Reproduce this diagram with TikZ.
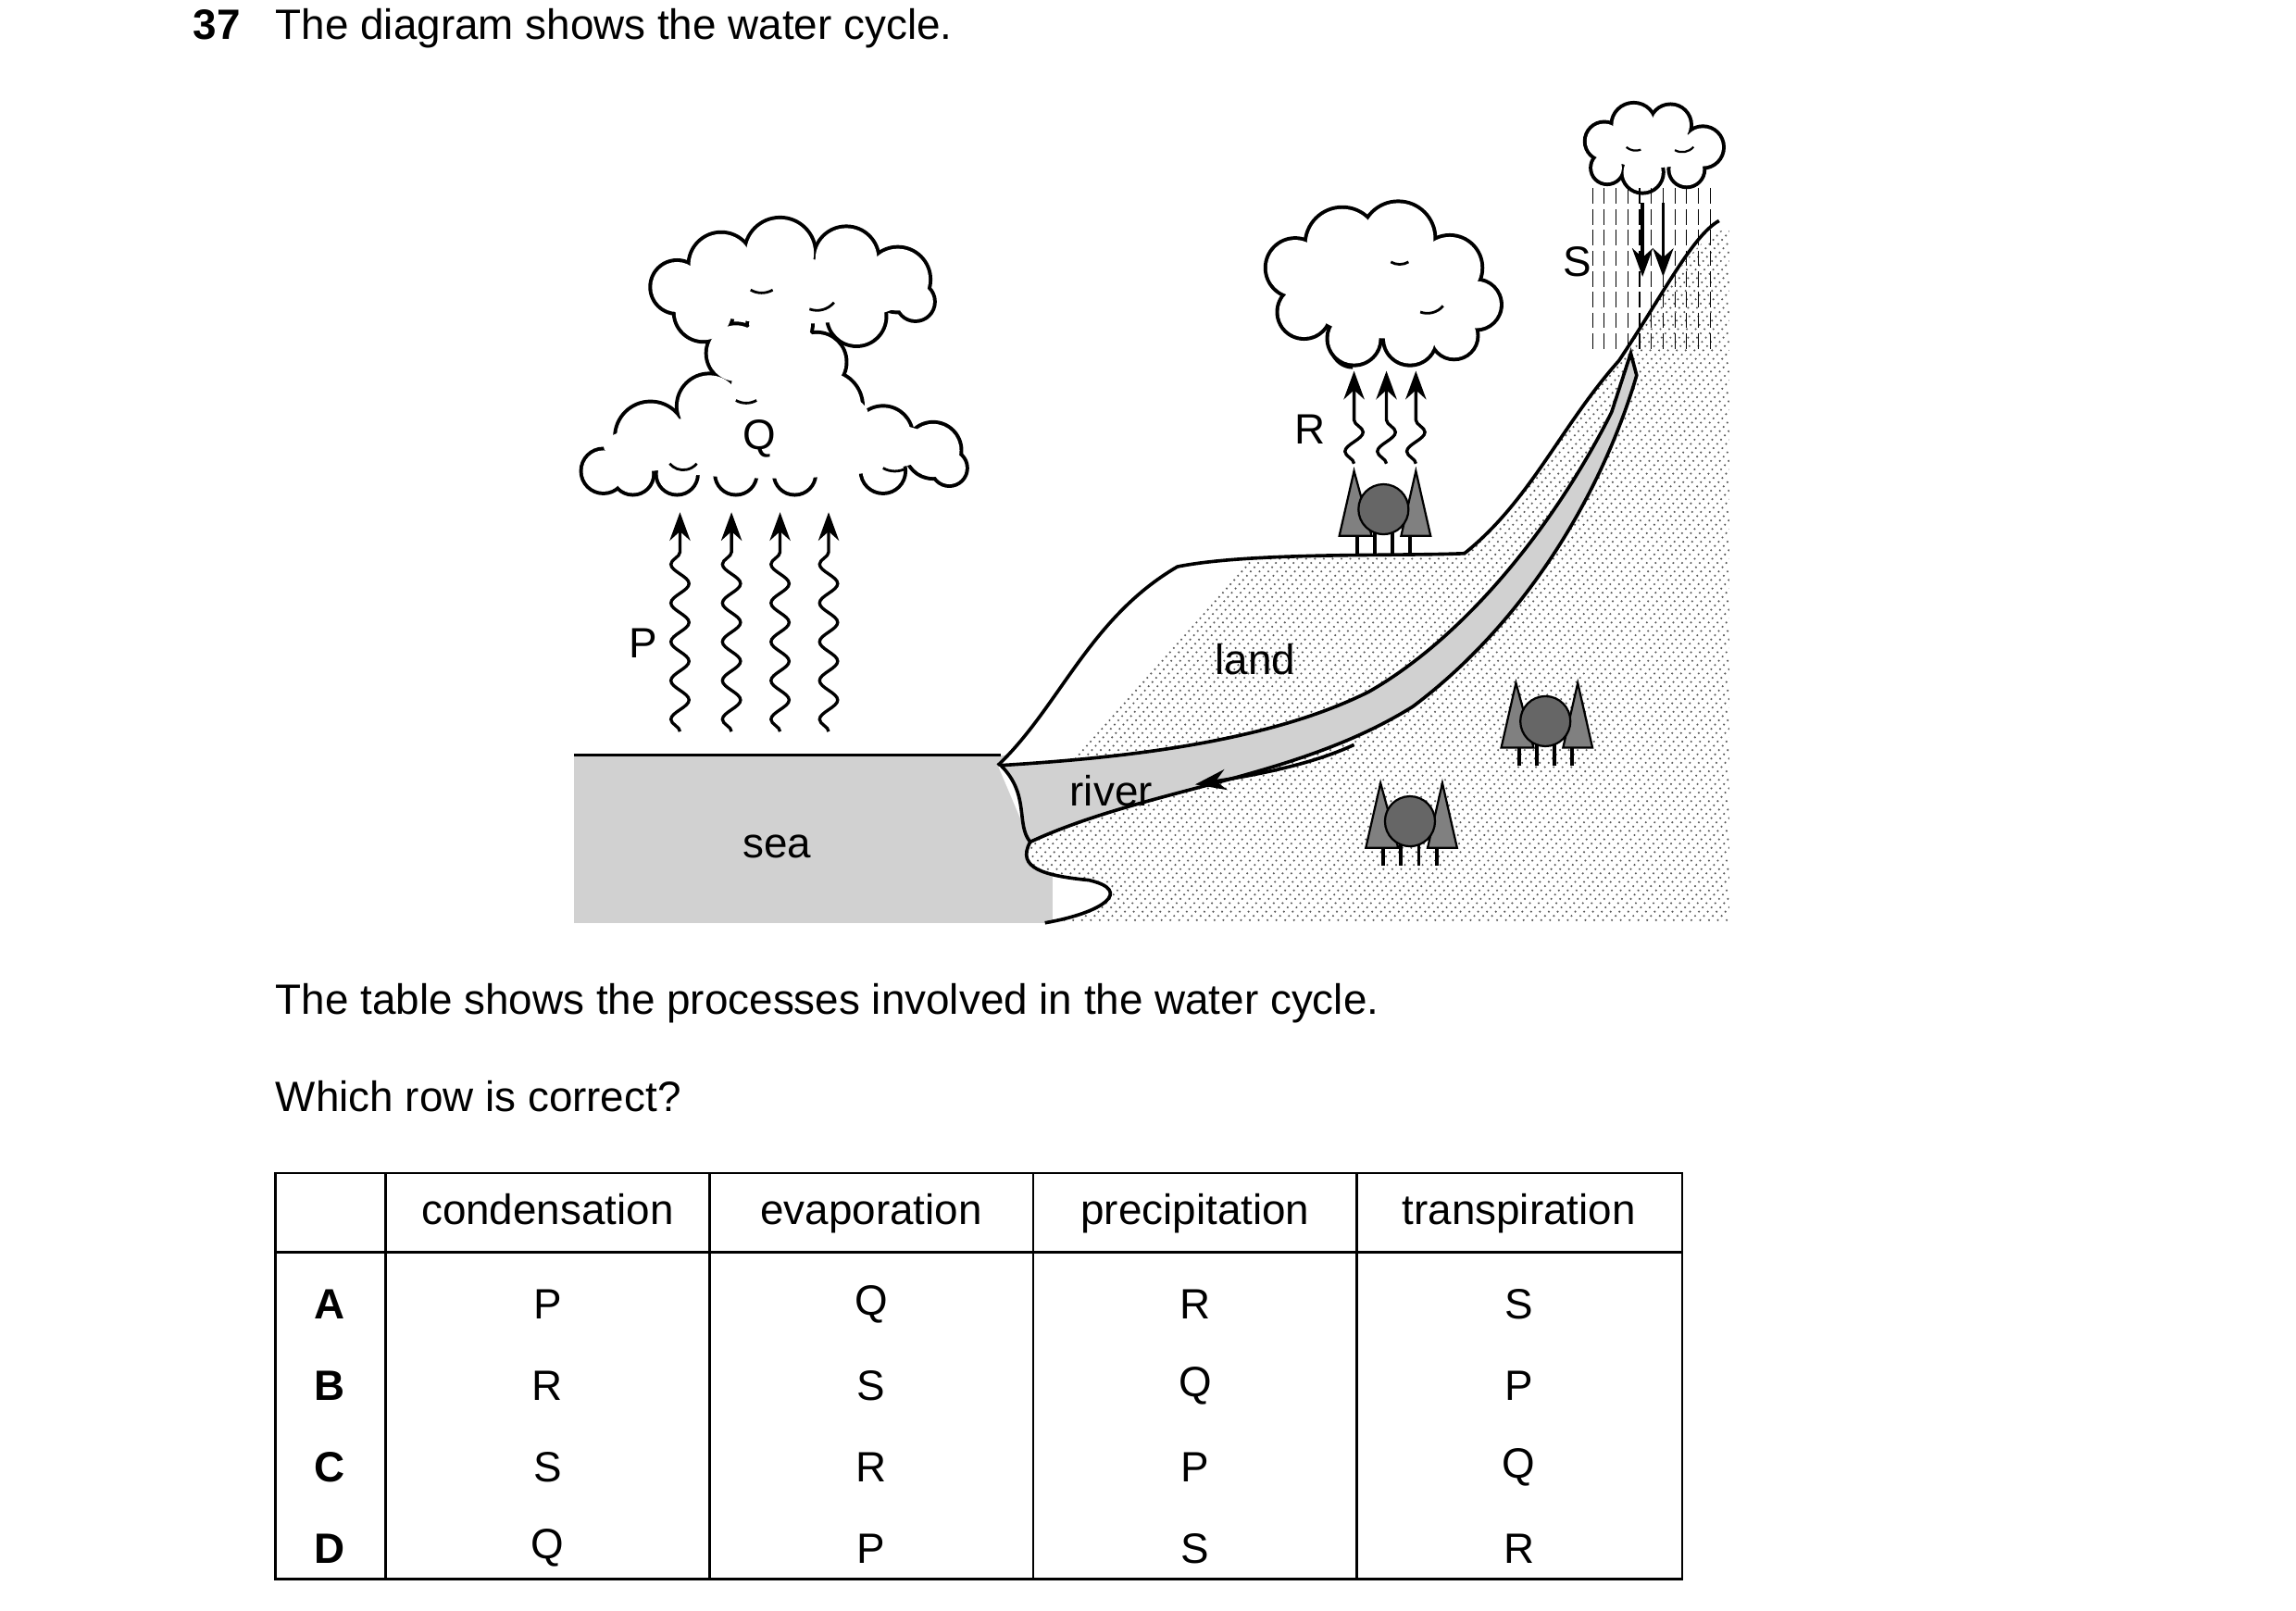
\documentclass[tikz,border=0pt]{standalone}
\usepackage{fontspec}
\setmainfont{Liberation Sans}
\usetikzlibrary{decorations.pathmorphing,arrows.meta}
\definecolor{seagray}{gray}{0.82}
\definecolor{treegray}{gray}{0.5}
\tikzset{
  txt/.style={font=\fontsize{16.4}{19}\selectfont, inner sep=0pt},
  vapour/.style={line width=1.2pt, decorate, decoration={snake, amplitude=3.5, segment length=15, post length=12}, -{Stealth[length=11pt,width=8pt]}},
}
% cloud from a list of puffs x/y/r and a list of core ellipses x/y/a/b
\newcommand{\cloudblob}[2]{%
  \foreach \cx/\cy/\cr in {#1} \fill[black] (\cx,\cy) circle (\cr+1.5);
  \foreach \cx/\cy/\cr in {#1} \fill[white] (\cx,\cy) circle (\cr-1);
  \foreach \cx/\cy/\ca/\cb in {#2} \fill[white] (\cx,\cy) ellipse ({\ca} and {\cb});
}
\newcommand{\trees}[2]{%
  \foreach \t in {-16,-4,8,20} \draw[line width=1.4pt] (#1+\t,#2+12) -- (#1+\t,#2+28);
  \fill[treegray, draw=black, line width=0.8pt] (#1-28,#2+16) -- (#1-18,#2-28) -- (#1-6,#2+16) -- cycle;
  \fill[treegray, draw=black, line width=0.8pt] (#1+14,#2+16) -- (#1+24,#2-28) -- (#1+34,#2+16) -- cycle;
  \fill[treegray!80!black, draw=black, line width=0.8pt] (#1+2,#2-2) circle (17);
}
\begin{document}
\begin{tikzpicture}[x=0.02cm,y=-0.02cm]
\useasboundingbox (0,0) rectangle (1560,1094);
% Question
\node[txt, anchor=base west, font=\fontsize{16.4}{19}\selectfont\bfseries] (num) at (131,27) {37};
\node[txt, anchor=base west] (qtext) at (187,27) {The diagram shows the water cycle.};
% Sea
\fill[seagray] (390,513) rectangle (715,627);
% Land with hatching
\begin{scope}
\clip (678,520) .. controls (720,480) and (740,420) .. (800,385) .. controls (850,375) and (950,378) .. (995,376)
  .. controls (1040,340) and (1060,290) .. (1100,245) .. controls (1130,200) and (1150,160) .. (1175,155)
  -- (1175,627) -- (710,627) .. controls (750,620) and (770,605) .. (740,598) .. controls (710,595) and (690,590) .. (700,572) -- cycle;
\fill[white] (600,100) rectangle (1200,640);
\foreach \k in {0,6,...,700}
  \draw[black!65, line width=0.6pt, dash pattern=on 0.6pt off 1.6pt] (620+\k,640) -- (620+\k+480,100);
\end{scope}
\draw[line width=1.3pt] (390,513) -- (680,513);
\draw[line width=1.3pt] (678,520) .. controls (720,480) and (740,420) .. (800,385) .. controls (850,375) and (950,378) .. (995,376)
  .. controls (1040,340) and (1060,290) .. (1100,245) .. controls (1130,200) and (1150,160) .. (1168,150);
\draw[line width=1.3pt] (710,627) .. controls (750,620) and (770,605) .. (740,598) .. controls (710,595) and (690,590) .. (700,572);
% River
\filldraw[fill=seagray, line width=1.3pt] (680,520) .. controls (760,515) and (860,505) .. (930,470)
  .. controls (1000,430) and (1060,350) .. (1095,280) -- (1108,240) -- (1112,255)
  .. controls (1090,330) and (1040,420) .. (960,480) .. controls (880,530) and (780,535) .. (700,572)
  .. controls (690,560) and (700,540) .. (680,520) -- cycle;
\draw[line width=1.3pt, -{Stealth[length=12pt,width=8pt]}] (920,506) .. controls (890,520) and (850,527) .. (812,533);
% Clouds
\cloudblob{460/195/18,490/180/22,530/172/24,575/176/22,610/190/22,622/205/13,582/215/20,530/220/22,478/212/20,500/240/20,518/262/22,555/246/20,
  410/320/15,442/297/24,482/276/22,522/266/24,562/276/24,600/296/20,634/306/19,645/318/12,600/320/15,540/322/14,500/322/14,460/322/14,430/322/14}
  {540/198/80/22,527/245/32/28,525/303/115/22,540/282/50/20}
\cloudblob{880/182/20,912/166/25,950/162/25,985/182/22,1003/207/17,988/228/16,958/230/18,920/230/18,886/212/18}
  {945/200/58/30}
\cloudblob{1090/96/13,1110/85/15,1135/85/14,1157/100/14,1146/115/12,1116/117/14,1092/114/11}
  {1123/101/35/13}
\draw[line width=1pt] (510,197) arc (120:60:15);
\draw[line width=1pt] (550,210) arc (110:40:15);
\draw[line width=1pt] (500,272) arc (120:60:14);
\draw[line width=1pt] (455,315) arc (140:40:12);
\draw[line width=1pt] (600,318) arc (120:60:16);
\draw[line width=1pt] (905,240) arc (160:90:15);
\draw[line width=1pt] (945,178) arc (120:60:12);
\draw[line width=1pt] (965,212) arc (110:40:14);
\draw[line width=0.8pt] (1105,100) arc (130:70:10);
\draw[line width=0.8pt] (1138,102) arc (120:40:10);
% Rain
\foreach \x in {1082,1090,...,1165}
  \draw[line width=0.4pt, dash pattern=on 6pt off 2pt] (\x,128) -- (\x,240);
\draw[line width=1.3pt, -{Stealth[length=11pt,width=8pt]}] (1116,138) -- (1116,188);
\draw[line width=1.3pt, -{Stealth[length=11pt,width=8pt]}] (1130,138) -- (1130,188);
% Evaporation and transpiration
\foreach \x in {462,497,530,563}
  \draw[vapour] (\x,497) -- (\x,348);
\foreach \x in {920,942,962}
  \draw[vapour] (\x,315) -- (\x,252);
% Trees
\trees{938}{348}
\trees{1048}{492}
\trees{956}{560}
% Labels
\node[txt] (lp) at (437,437) {P};
\node[txt] (lq) at (516,298) {Q};
\node[txt] (lr) at (890,292) {R};
\node[txt] (ls) at (1072,178) {S};
\node[txt] (lland) at (853,448) {land};
\node[txt] (lriver) at (755,537) {river};
\node[txt] (lsea) at (528,575) {sea};
% Text
\node[txt, anchor=base west] (t1) at (187,689) {The table shows the processes involved in the water cycle.};
\node[txt, anchor=base west] (t2) at (187,755) {Which row is correct?};
% Table
\draw[line width=1pt] (187,797) rectangle (1143,1073);
\draw[line width=1pt] (187,851) -- (1143,851);
\foreach \x in {262,482,702,922} \draw[line width=1pt] (\x,797) -- (\x,1073);
\foreach \h [count=\i] in {condensation,evaporation,precipitation,transpiration}
  \node[txt, anchor=base] (h\i) at ({372+220*(\i-1)},832) {\h};
\foreach \r/\a/\b/\c/\d [count=\j] in {A/P/Q/R/S,B/R/S/Q/P,C/S/R/P/Q,D/Q/P/S/R} {
  \node[txt, font=\fontsize{16.4}{19}\selectfont\bfseries] (r\j) at (224,{886+55.3*(\j-1)}) {\r};
  \node[txt] at (372,{886+55.3*(\j-1)}) {\a};
  \node[txt] at (592,{886+55.3*(\j-1)}) {\b};
  \node[txt] at (812,{886+55.3*(\j-1)}) {\c};
  \node[txt] at (1032,{886+55.3*(\j-1)}) {\d};
}
\end{tikzpicture}
\end{document}
